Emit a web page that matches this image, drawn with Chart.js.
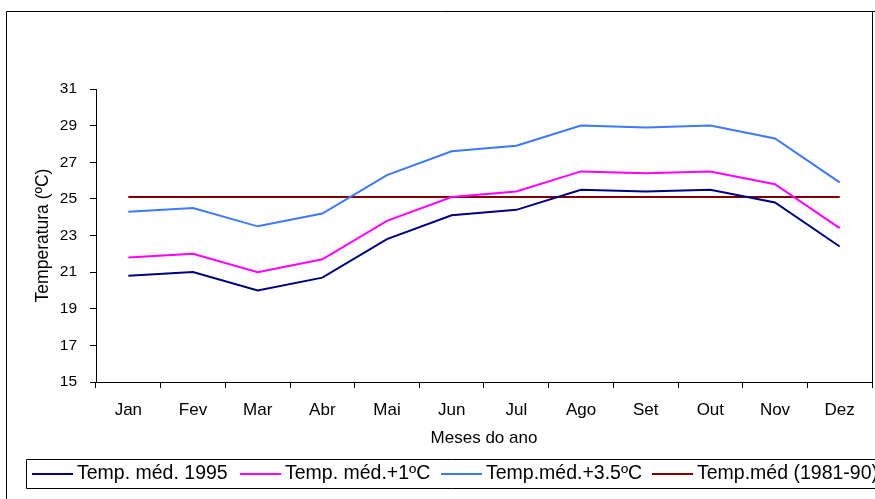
<!DOCTYPE html>
<html>
<head>
<meta charset="utf-8">
<script src="https://cdn.jsdelivr.net/npm/chart.js@4.4.0/dist/chart.umd.min.js"></script>
<style>
  html, body { margin: 0; padding: 0; background: #ffffff; }
  #wrap { width: 875px; height: 499px; position: relative; overflow: hidden; }
</style>
</head>
<body>
<div id="wrap"><canvas id="c" width="875" height="499"></canvas></div>
<script>
const months = ['Jan','Fev','Mar','Abr','Mai','Jun','Jul','Ago','Set','Out','Nov','Dez'];
const temp1995 = [20.8, 21.0, 20.0, 20.7, 22.8, 24.1, 24.4, 25.5, 25.4, 25.5, 24.8, 22.4];
const tempPlus1 = [21.8, 22.0, 21.0, 21.7, 23.8, 25.1, 25.4, 26.5, 26.4, 26.5, 25.8, 23.4];
const tempPlus35 = [24.3, 24.5, 23.5, 24.2, 26.3, 27.6, 27.9, 29.0, 28.9, 29.0, 28.3, 25.9];
const tempMean8190 = [25.1, 25.1, 25.1, 25.1, 25.1, 25.1, 25.1, 25.1, 25.1, 25.1, 25.1, 25.1];
const seriesLabels = ['Temp. méd. 1995', 'Temp. méd.+1ºC', 'Temp.méd.+3.5ºC', 'Temp.méd (1981-90)'];
const yTicks = [15, 17, 19, 21, 23, 25, 27, 29, 31];
const xTitle = 'Meses do ano';
const yTitle = 'Temperatura (ºC)';

const FONT = "'Liberation Sans', Arial, Helvetica, sans-serif";

const frameLegend = {
  id: 'frameLegend',
  afterDraw(chart) {
    const ctx = chart.ctx;
    ctx.save();
    ctx.strokeStyle = '#000';
    ctx.lineWidth = 1;
    // outer frame
    ctx.beginPath();
    ctx.moveTo(6.5, 500);
    ctx.lineTo(6.5, 11.5);
    ctx.lineTo(876, 11.5);
    ctx.stroke();
    ctx.beginPath();
    ctx.moveTo(872.5, 11.5);
    ctx.lineTo(872.5, 387);
    ctx.stroke();
    // legend box
    ctx.beginPath();
    ctx.moveTo(880, 459.5);
    ctx.lineTo(26.5, 459.5);
    ctx.lineTo(26.5, 488.5);
    ctx.lineTo(880, 488.5);
    ctx.stroke();
    // legend items
    const starts = [32, 240, 441, 652];
    ctx.font = "19.5px " + FONT;
    ctx.textBaseline = 'alphabetic';
    ctx.textAlign = 'left';
    chart.data.datasets.forEach((ds, i) => {
      const x = starts[i];
      ctx.strokeStyle = ds.borderColor;
      ctx.lineWidth = 2;
      ctx.beginPath();
      ctx.moveTo(x, 474);
      ctx.lineTo(x + 41, 474);
      ctx.stroke();
      ctx.fillStyle = '#000';
      ctx.fillText(ds.label, x + 45, 479);
    });
    ctx.restore();
  }
};

new Chart(document.getElementById('c'), {
  type: 'line',
  data: {
    labels: months,
    datasets: [
      { label: seriesLabels[0], data: temp1995, borderColor: '#000080' },
      { label: seriesLabels[1], data: tempPlus1, borderColor: '#FF00FF' },
      { label: seriesLabels[2], data: tempPlus35, borderColor: '#3D78FF' },
      { label: seriesLabels[3], data: tempMean8190, borderColor: '#800000' }
    ].map(d => Object.assign(d, { borderWidth: 2, pointRadius: 0, tension: 0, fill: false }))
  },
  options: {
    responsive: false,
    animation: false,
    devicePixelRatio: 1,
    layout: { padding: { top: 89, right: 3, left: 0, bottom: 0 } },
    plugins: { legend: { display: false }, tooltip: { enabled: false }, title: { display: false } },
    scales: {
      x: {
        type: 'category',
        offset: true,
        grid: { display: true, drawOnChartArea: false, drawTicks: true, tickLength: 6, color: '#000', offset: true },
        border: { display: true, color: '#000', width: 1 },
        ticks: { color: '#000', font: { family: FONT, size: 17 }, padding: 12, maxRotation: 0, autoSkip: false },
        title: { display: true, text: xTitle, color: '#000', font: { family: FONT, size: 17 }, padding: { top: 0, bottom: 50 } },
        afterFit(s) { s.height = 117; }
      },
      y: {
        min: 15, max: 31,
        afterBuildTicks(s) { s.ticks = yTicks.map(v => ({ value: v })); },
        grid: { display: true, drawOnChartArea: false, drawTicks: true, tickLength: 6, color: '#000' },
        border: { display: true, color: '#000', width: 1 },
        ticks: { color: '#000', font: { family: FONT, size: 15.5 }, padding: 13 },
        title: { display: true, text: yTitle, color: '#000', font: { family: FONT, size: 17.5 }, padding: { top: 33, bottom: 0 } },
        afterFit(s) { s.width = 96; }
      }
    }
  },
  plugins: [frameLegend]
});
</script>
</body>
</html>
